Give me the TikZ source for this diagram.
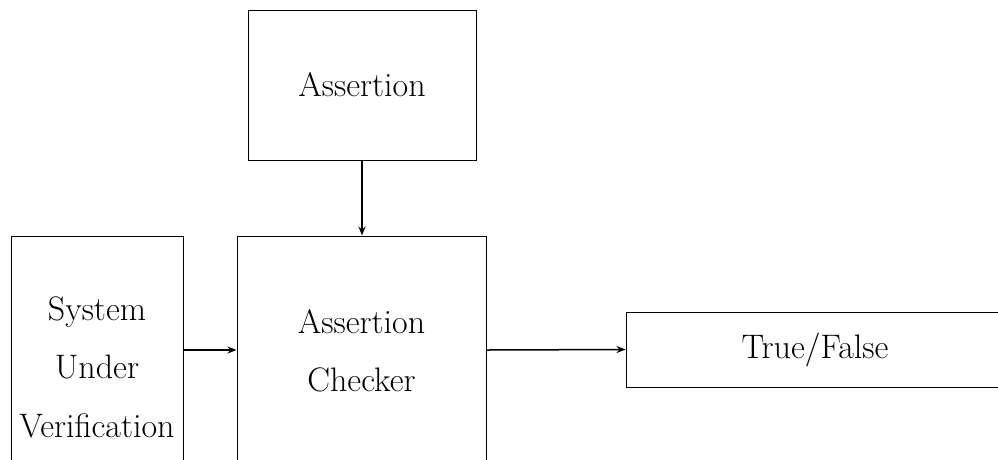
\documentclass[tikz,border=0pt]{standalone}
\usepackage{fontspec}
\usetikzlibrary{arrows.meta}
\begin{document}
\begin{tikzpicture}[x=1pt,y=-1pt,
  box/.style={draw, line width=1pt, rectangle, inner sep=0pt},
  lbl/.style={anchor=base, inner sep=0pt, font=\fontsize{34}{40}\selectfont},
  conn/.style={line width=1.5pt, -{Stealth[length=9pt,width=7pt]}}]
\useasboundingbox (0,0) rectangle (998,459);
\clip (0,0) rectangle (998,459);
\node[box, minimum width=228pt, minimum height=150pt] (assert) at (362,85) {};
\node[box, minimum width=172pt, minimum height=228pt] (suv) at (97,350) {};
\node[box, minimum width=249pt, minimum height=228pt] (checker) at (361.5,350) {};
\node[box, minimum width=378pt, minimum height=75pt] (tf) at (815,349.5) {};
\node[lbl] (t1) at (362,96) {Assertion};
\node[lbl] (t2) at (97,320) {System};
\node[lbl] (t3) at (97,378) {Under};
\node[lbl] (t4) at (97,437) {Verification};
\node[lbl] (t5) at (361.5,333) {Assertion};
\node[lbl] (t6) at (361.5,391) {Checker};
\node[lbl] (t7) at (815,358) {True/False};
\draw[conn] (assert.south) -- (assert.south |- checker.north);
\draw[conn] (suv.east) -- (checker.west);
\draw[conn] (checker.east) -- (tf.west);
\end{tikzpicture}
\end{document}
